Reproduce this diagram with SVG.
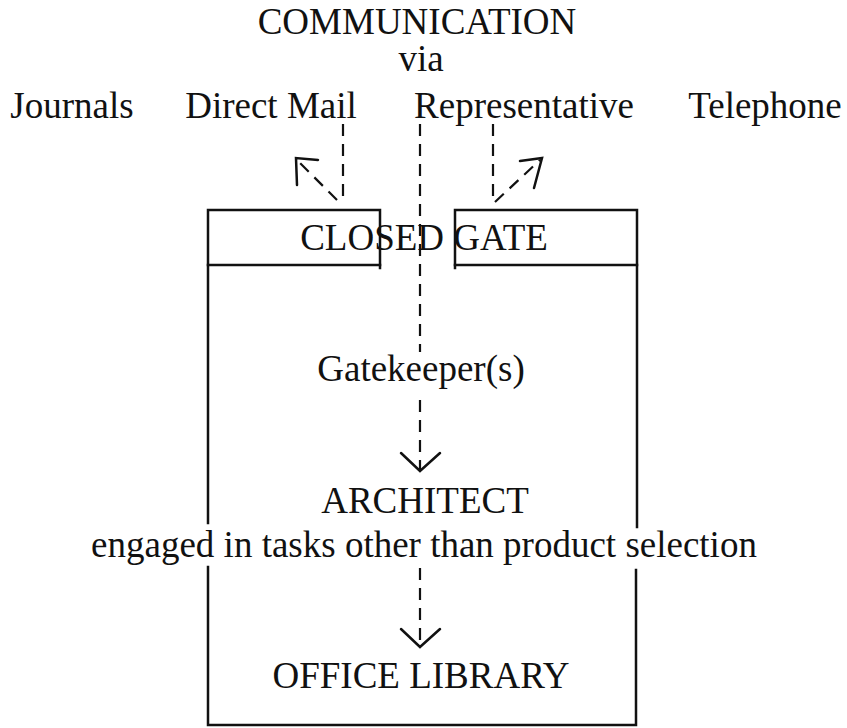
<svg xmlns="http://www.w3.org/2000/svg" width="847" height="728" viewBox="0 0 847 728">
  <style>
    text { font-family: "Liberation Serif", "Times New Roman", serif; font-size: 37px; fill: #111; text-anchor: middle; }
    .solid { stroke: #111; stroke-width: 2.5; fill: none; stroke-linecap: square; }
    .dash { stroke: #111; stroke-width: 2.2; fill: none; stroke-dasharray: 12 8; }
    .head { stroke: #111; stroke-width: 2.5; fill: none; stroke-linecap: round; stroke-linejoin: miter; }
  </style>
  <rect width="847" height="728" fill="#fff"/>

  <!-- heading -->
  <g id="heading">
    <text x="417" y="34">COMMUNICATION</text>
    <text x="421" y="71">via</text>
  </g>

  <!-- communication channels -->
  <g id="channel-journals"><text x="72" y="118">Journals</text></g>
  <g id="channel-direct-mail"><text x="271" y="118">Direct Mail</text></g>
  <g id="channel-representative"><text x="524" y="118">Representative</text></g>
  <g id="channel-telephone"><text x="765" y="118">Telephone</text></g>

  <!-- outer frame, broken where the architect caption crosses it -->
  <g id="frame">
    <polyline class="solid" points="208,523 208,210 380,210 380,268"/>
    <polyline class="solid" points="455,268 455,210 637,210 637,527"/>
    <line class="solid" x1="208" y1="265" x2="380" y2="265"/>
    <line class="solid" x1="455" y1="265" x2="637" y2="265"/>
    <polyline class="solid" points="208,567 208,725 636,725 636,570"/>
  </g>

  <g id="closed-gate"><text x="424" y="250">CLOSED GATE</text></g>
  <g id="gatekeepers"><text x="421" y="381">Gatekeeper(s)</text></g>
  <g id="architect">
    <text x="425" y="513">ARCHITECT</text>
    <text x="424" y="557">engaged in tasks other than product selection</text>
  </g>
  <g id="office-library"><text x="421" y="688">OFFICE LIBRARY</text></g>

  <!-- connectors -->
  <g id="connectors">
    <!-- direct mail: turned back at the gate -->
    <line class="dash" x1="343" y1="124" x2="343" y2="198"/>
    <line class="dash" x1="337" y1="200" x2="297" y2="160" stroke-dasharray="20 14"/>
    <polyline class="head" points="318,160 296,158 297,185"/>
    <!-- telephone: turned back at the gate -->
    <line class="dash" x1="493" y1="124" x2="493" y2="196"/>
    <line class="dash" x1="495" y1="202" x2="540" y2="160" stroke-dasharray="20 14"/>
    <polyline class="head" points="520,161 542,158 534,188"/>
    <!-- representative: through the gate to the architect -->
    <line class="dash" x1="420" y1="124" x2="420" y2="352"/>
    <line class="dash" x1="420" y1="400" x2="420" y2="470"/>
    <polyline class="head" points="401,453 420,471 440,453"/>
    <!-- architect to office library -->
    <line class="dash" x1="420" y1="568" x2="420" y2="646"/>
    <polyline class="head" points="401,629 420,647 440,629"/>
  </g>
</svg>
